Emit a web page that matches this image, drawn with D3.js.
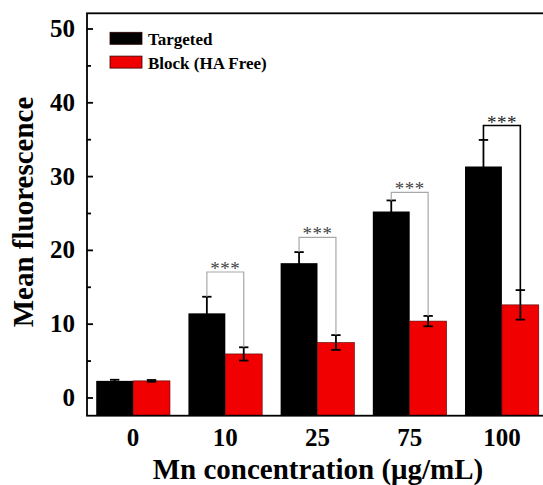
<!DOCTYPE html>
<html>
<head>
<meta charset="utf-8">
<script src="https://cdn.jsdelivr.net/npm/d3@7"></script>
<style>
  body { margin: 0; background: #fff; }
  svg { display: block; font-family: "Liberation Serif", "Times New Roman", serif; font-weight: bold; }
</style>
</head>
<body>
<svg id="chart" width="543" height="485"></svg>
<script>
// values
const categories = ['0', '10', '25', '75', '100'];
const series = ['Targeted', 'Block (HA Free)'];
const targeted = [2.25, 11.4, 18.2, 25.2, 31.3];
const targetedErr = [0.15, 2.25, 1.5, 1.5, 3.6];
const block = [2.25, 5.9, 7.45, 10.35, 12.55];
const blockErr = [0.12, 0.9, 1.0, 0.7, 2.0];
// significance brackets: height of the bar and its label
const sigHeight = [null, 17.0, 21.7, 27.8, 36.85];
const sigLabel = ['', '***', '***', '***', '***'];
const yTicks = [0, 10, 20, 30, 40, 50];
const yMinor = [5, 15, 25, 35, 45];

const colors = {'Targeted': '#000', 'Block (HA Free)': '#f00000'};

const svg = d3.select('#chart');
const plotL = 87, plotR = 548, plotT = 13.3, plotB = 415.7;

const x = d3.scaleBand()
  .domain(categories)
  .range([plotL, plotR])
  .paddingInner(0.2)
  .paddingOuter(0.1);
const xs = d3.scaleBand()
  .domain(series)
  .range([0, x.bandwidth()]);
const y = d3.scaleLinear()
  .domain([-2.47, 52.06])
  .range([plotB, plotT]);

const rows = categories.map((c, i) => ({
  cat: c,
  vals: [
    {s: series[0], v: targeted[i], e: targetedErr[i]},
    {s: series[1], v: block[i], e: blockErr[i]}
  ],
  sig: sigHeight[i],
  label: sigLabel[i],
  idx: i
}));

// bars
const groups = svg.append('g').selectAll('g.grp')
  .data(rows).join('g')
  .attr('class', 'grp')
  .attr('transform', d => `translate(${x(d.cat)},0)`);

groups.selectAll('rect')
  .data(d => d.vals).join('rect')
  .attr('x', d => xs(d.s))
  .attr('width', xs.bandwidth())
  .attr('y', d => y(d.v))
  .attr('height', d => plotB - y(d.v))
  .attr('fill', d => colors[d.s])
  .attr('stroke', d => d.s === series[1] ? '#500' : 'none')
  .attr('stroke-width', 0.6);

// error bars (black, capped)
const cap = 4.7;
groups.selectAll('g.err')
  .data(d => d.vals).join('g')
  .attr('class', 'err')
  .each(function(d) {
    const g = d3.select(this);
    const cx = xs(d.s) + xs.bandwidth() / 2;
    g.append('line')
      .attr('x1', cx).attr('x2', cx)
      .attr('y1', y(d.v - d.e)).attr('y2', y(d.v + d.e))
      .attr('stroke', '#000').attr('stroke-width', 1.8);
    for (const yy of [d.v + d.e, d.v - d.e]) {
      g.append('line')
        .attr('x1', cx - cap).attr('x2', cx + cap)
        .attr('y1', y(yy)).attr('y2', y(yy))
        .attr('stroke', '#000').attr('stroke-width', 1.8);
    }
  });

// significance brackets
const sigRows = rows.filter(d => d.sig != null);
const brackets = svg.append('g').selectAll('g.sig')
  .data(sigRows).join('g')
  .attr('class', 'sig')
  .attr('transform', d => `translate(${x(d.cat)},0)`);

brackets.append('path')
  .attr('fill', 'none')
  .attr('stroke', d => d.idx === 4 ? '#000' : '#a8a8a8')
  .attr('stroke-width', d => d.idx === 4 ? 1.6 : 1.2)
  .attr('d', d => {
    const x1 = xs(series[0]) + xs.bandwidth() / 2;
    const x2 = xs(series[1]) + xs.bandwidth() / 2;
    const a = d.vals[0], b = d.vals[1];
    return `M${x1},${y(a.v + a.e)}V${y(d.sig)}H${x2}V${y(b.v + b.e)}`;
  });

brackets.append('text')
  .attr('x', x.bandwidth() / 2)
  .attr('y', d => y(d.sig) + 3)
  .attr('text-anchor', 'middle')
  .attr('font-size', 19)
  .attr('font-weight', 'normal')
  .attr('letter-spacing', 0.5)
  .attr('fill', d => d.idx === 4 ? '#222' : '#444')
  .text(d => d.label);

// frame
svg.append('rect')
  .attr('x', plotL).attr('y', plotT)
  .attr('width', plotR - plotL).attr('height', plotB - plotT)
  .attr('fill', 'none')
  .attr('stroke', '#000')
  .attr('stroke-width', 1.8);

// y axis, ticks pointing inward
const yAxis = svg.append('g')
  .attr('transform', `translate(${plotL},0)`)
  .call(d3.axisLeft(y).tickValues(yTicks).tickSize(-6).tickPadding(12));
yAxis.select('.domain').remove();
yAxis.selectAll('line').attr('stroke-width', 1.8);
yAxis.selectAll('text')
  .attr('font-size', 25)
  .attr('font-family', '"Liberation Serif", serif')
  .attr('font-weight', 'bold')
  .attr('fill', '#000');

const yMinorAxis = svg.append('g')
  .attr('transform', `translate(${plotL},0)`)
  .call(d3.axisLeft(y).tickValues(yMinor).tickSize(-4).tickFormat(''));
yMinorAxis.select('.domain').remove();
yMinorAxis.selectAll('line').attr('stroke-width', 1.8);

// x axis labels
const xAxis = svg.append('g')
  .attr('transform', `translate(0,${plotB})`)
  .call(d3.axisBottom(x).tickSize(0).tickPadding(13));
xAxis.select('.domain').remove();
xAxis.selectAll('text')
  .attr('font-size', 25)
  .attr('font-family', '"Liberation Serif", serif')
  .attr('font-weight', 'bold')
  .attr('fill', '#000');

// axis titles
svg.append('text')
  .attr('x', 318).attr('y', 479)
  .attr('text-anchor', 'middle')
  .attr('font-size', 29)
  .text('Mn concentration (\u03bcg/mL)');

svg.append('text')
  .attr('transform', 'translate(33,212) rotate(-90)')
  .attr('text-anchor', 'middle')
  .attr('font-size', 29)
  .text('Mean fluorescence');

// legend
const legend = svg.append('g').selectAll('g')
  .data(series).join('g')
  .attr('transform', (d, i) => `translate(110,${32.3 + i * 23.8})`);
legend.append('rect')
  .attr('width', 32).attr('height', 12)
  .attr('fill', d => colors[d])
  .attr('stroke', '#300').attr('stroke-width', 0.8);
legend.append('text')
  .attr('x', 38).attr('y', 12.5)
  .attr('font-size', 17)
  .text(d => d);
</script>
</body>
</html>
